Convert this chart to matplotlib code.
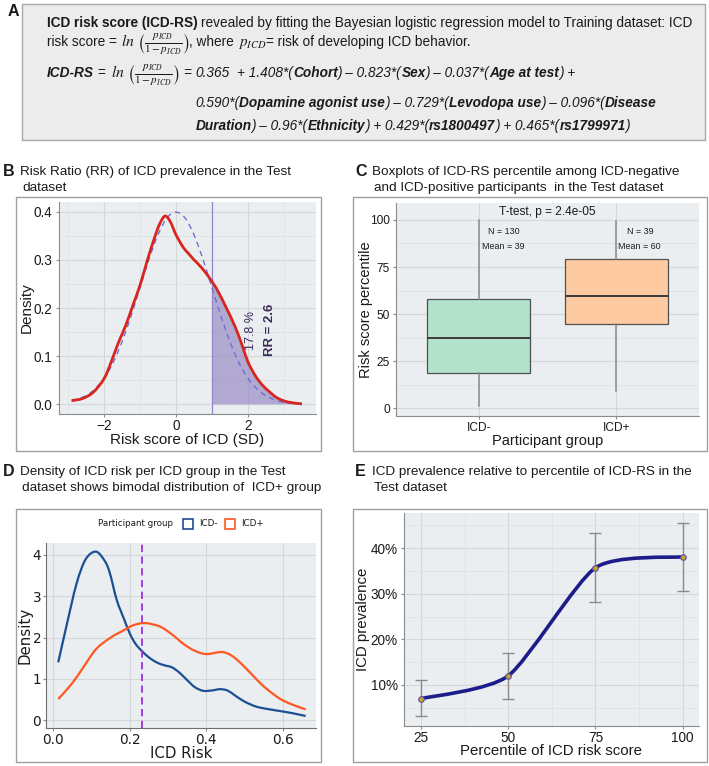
import numpy as np
import matplotlib
matplotlib.use("Agg")
import matplotlib.pyplot as plt
from matplotlib.path import Path
from matplotlib.patches import PathPatch, Rectangle
from matplotlib.ticker import MultipleLocator, FuncFormatter

plt.rcParams["font.family"] = ["Liberation Sans", "DejaVu Sans"]
plt.rcParams["mathtext.fontset"] = "stix"

# ---- panel B: density of the risk score (SD units)
b_x = [-2.9, -2.6, -2.3, -2.0, -1.8, -1.6, -1.4, -1.2, -1.0, -0.8, -0.6, -0.45, -0.3,
       -0.15, 0.0, 0.2, 0.35, 0.5, 0.72, 1.0, 1.2, 1.4, 1.65, 1.85, 2.0, 2.2, 2.4, 2.6,
       2.8, 3.1, 3.5]
b_red = [0.008, 0.012, 0.025, 0.053, 0.088, 0.128, 0.163, 0.205, 0.247, 0.298, 0.345,
         0.375, 0.391, 0.378, 0.352, 0.326, 0.313, 0.300, 0.283, 0.255, 0.230, 0.200,
         0.160, 0.120, 0.088, 0.060, 0.040, 0.026, 0.014, 0.005, 0.001]
b_norm_x = [-2.9, -2.5, -2.25, -2.0, -1.75, -1.5, -1.25, -1.0, -0.75, -0.5, -0.25, 0.0,
            0.25, 0.5, 0.75, 1.0, 1.25, 1.5, 1.75, 2.0, 2.25, 2.5, 2.75, 3.0, 3.25, 3.5]
b_norm = [0.006, 0.018, 0.032, 0.054, 0.086, 0.130, 0.183, 0.242, 0.301, 0.352, 0.387,
          0.399, 0.387, 0.352, 0.301, 0.242, 0.183, 0.130, 0.086, 0.054, 0.032, 0.018,
          0.009, 0.004, 0.002, 0.001]
b_cut = 1.0
b_pct = "17.8 %"
b_rr = "RR = 2.6"

# ---- panel C: boxplot stats
c_groups = ["ICD-", "ICD+"]
c_q1 = [18.6, 44.7]
c_med = [37.2, 59.4]
c_q3 = [58.0, 79.3]
c_wlo = [1.2, 9.4]
c_whi = [100.0, 99.3]
c_n = [130, 39]
c_mean = [39, 60]
c_colors = ["#b2e2cb", "#fdcaa1"]

# ---- panel D: density of ICD risk per group
d_neg_x = [0.013, 0.035, 0.061, 0.085, 0.112, 0.135, 0.148, 0.166, 0.185, 0.2, 0.215,
           0.231, 0.25, 0.27, 0.29, 0.31, 0.33, 0.35, 0.37, 0.392, 0.415, 0.436, 0.455,
           0.475, 0.5, 0.53, 0.56, 0.6, 0.63, 0.66]
d_neg = [1.40, 2.30, 3.31, 3.90, 4.08, 3.85, 3.56, 2.91, 2.45, 2.10, 1.85, 1.68, 1.52,
         1.40, 1.33, 1.28, 1.15, 0.97, 0.80, 0.71, 0.72, 0.75, 0.72, 0.60, 0.45, 0.33,
         0.27, 0.21, 0.16, 0.10]
d_pos_x = [0.013, 0.05, 0.08, 0.112, 0.15, 0.183, 0.21, 0.24, 0.278, 0.31, 0.34, 0.37,
           0.40, 0.44, 0.465, 0.488, 0.52, 0.55, 0.58, 0.6, 0.63, 0.66]
d_pos = [0.51, 0.90, 1.30, 1.72, 2.00, 2.17, 2.30, 2.35, 2.27, 2.08, 1.85, 1.68, 1.60,
         1.65, 1.57, 1.40, 1.10, 0.82, 0.60, 0.48, 0.36, 0.26]
d_cut = 0.231

# ---- panel E: prevalence by percentile
e_pct = [25, 50, 75, 100]
e_prev = [7.0, 12.0, 35.7, 38.1]
e_lo = [3.1, 6.9, 28.2, 30.6]
e_hi = [11.0, 17.0, 43.3, 45.6]

W, H = 709, 766
fig = plt.figure(figsize=(W / 100, H / 100), dpi=100)
R = fig.canvas.get_renderer()
INK = "#1a1a1a"


def fy(y):
    return 1 - y / H


def rect(l, t, r, b):
    return [l / W, 1 - b / H, (r - l) / W, (b - t) / H]


def frame(l, t, r, b, fc="none", ec="#a0a0a0"):
    fig.add_artist(Rectangle((l / W, 1 - b / H), (r - l) / W, (b - t) / H,
                             transform=fig.transFigure, facecolor=fc, edgecolor=ec,
                             lw=1, zorder=0))


def spline(xs, ys, start=0, t=1 / 6):
    # Catmull-Rom through the read points, as cubic Bezier segments
    p = np.column_stack([xs, ys]).astype(float)
    q = np.vstack([p[:1], p, p[-1:]])
    verts, codes = [p[start]], [Path.MOVETO]
    for i in range(start, len(p) - 1):
        p0, p1, p2, p3 = q[i], q[i + 1], q[i + 2], q[i + 3]
        verts += [p1 + (p2 - p0) * t, p2 - (p3 - p1) * t, p2]
        codes += [Path.CURVE4] * 3
    return verts, codes


def curve(ax, xs, ys, t=1 / 6, **kw):
    v, c = spline(xs, ys, t=t)
    ax.add_patch(PathPatch(Path(v, c), fill=False, **kw))


def gg(ax, bg="#ebeef0"):
    ax.set_facecolor(bg)
    ax.grid(which="major", color="#d4d8db", lw=0.8)
    ax.grid(which="minor", color="#dde1e3", lw=0.5)
    ax.set_axisbelow(True)
    for s in ["top", "right"]:
        ax.spines[s].set_visible(False)
    for s in ["left", "bottom"]:
        ax.spines[s].set_color("#8c8c8c")
    ax.tick_params(which="major", length=2.5, pad=2, color="#8c8c8c", labelcolor=INK)
    ax.tick_params(which="minor", length=0)


def labels(ax, xl, yl, xy, yx, size, **kw):
    ax.set_xlabel(xl, fontsize=size, color=INK, va="center", **kw)
    ax.set_ylabel(yl, fontsize=size, color=INK, va="center", **kw)
    ax.xaxis.set_label_coords(0.5, xy)
    ax.yaxis.set_label_coords(yx, 0.5)


def title(letter, x, y, lines, dx=17):
    fig.text(x / W, fy(y), letter, fontsize=11.5, fontweight="bold", va="center", color=INK)
    for i, s in enumerate(lines):
        fig.text((x + dx + (2 if i else 0)) / W, fy(y + 16 * i), s, fontsize=9.7,
                 va="center", color=INK)


# ================= A =================
frame(22, 4, 705, 140, fc="#ececec", ec="#a8a8a8")
fig.text(8 / W, fy(11), "A", fontsize=11.5, fontweight="bold", va="center", color=INK)
FS = 9.8
SP = 0.278 * FS * 100 / 72
N_ = dict(fontsize=FS)
B_ = dict(fontsize=FS, fontweight="bold")
I_ = dict(fontsize=FS, fontstyle="italic")
BI = dict(fontsize=FS, fontweight="bold", fontstyle="italic")
M_ = dict(fontsize=11.3)
P_ = dict(fontsize=10.8)
LN = r"$ln\ \left(\frac{p_{ICD}}{1-p_{ICD}}\right)$"


def rich(x, y, parts):
    xs = []
    for s, kw, gap in parts:
        x += gap * SP
        xs.append(x)
        t = fig.text(x / W, fy(y), s, va="baseline", ha="left", color=INK, **kw)
        x += t.get_window_extent(R).width
    return xs


rich(47, 27, [("ICD risk score (ICD-RS)", B_, 0),
              ("revealed by fitting the Bayesian logistic regression model to Training dataset: ICD", N_, 1)])
rich(47, 46, [("risk score =", N_, 0), (LN, M_, 1), (", where", N_, 0),
              (r"$p_{ICD}$", P_, 1), ("= risk of developing ICD behavior.", N_, 0)])
xs3 = rich(47, 77, [("ICD-RS", BI, 0), ("=", N_, 1), (LN, M_, 1.5), ("=", I_, 1),
                    ("0.365", I_, 1), ("+ 1.408*(", I_, 2), ("Cohort", BI, 0),
                    (") \u2013 0.823*(", I_, 0), ("Sex", BI, 0), (") \u2013 0.037*(", I_, 0),
                    ("Age at test", BI, 0), (") +", I_, 0)])
x4 = xs3[4]
rich(x4, 107, [("0.590*(", I_, 0), ("Dopamine agonist use", BI, 0),
               (") \u2013 0.729*(", I_, 0), ("Levodopa use", BI, 0),
               (") \u2013 0.096*(", I_, 0), ("Disease", BI, 0)])
rich(x4, 130, [("Duration", BI, 0), (") \u2013 0.96*(", I_, 0), ("Ethnicity", BI, 0),
               (") + 0.429*(", I_, 0), ("rs1800497", BI, 0), (") + 0.465*(", I_, 0),
               ("rs1799971", BI, 0), (")", I_, 0)])

# ================= B =================
title("B", 3, 172, ["Risk Ratio (RR) of ICD prevalence in the Test", "dataset"])
frame(16, 197, 321, 451)
axB = fig.add_axes(rect(59, 202, 316, 414))
gg(axB)
axB.set_xlim(-3.25, 3.89)
axB.set_ylim(-0.02, 0.42)
axB.xaxis.set_major_locator(MultipleLocator(2))
axB.xaxis.set_minor_locator(MultipleLocator(1))
axB.yaxis.set_major_locator(MultipleLocator(0.1))
axB.yaxis.set_minor_locator(MultipleLocator(0.05))
axB.yaxis.set_major_formatter(FuncFormatter(lambda v, p: f"{v:.1f}"))
axB.tick_params(labelsize=9.8)
axB.tick_params(axis="x", pad=1)
k = b_x.index(b_cut)
v, c = spline(b_x, b_red, start=k)
v += [(b_x[-1], 0), (b_cut, 0), (b_cut, 0)]
c += [Path.LINETO, Path.LINETO, Path.CLOSEPOLY]
axB.add_patch(PathPatch(Path(v, c), facecolor="#9a8cc6", alpha=0.7, lw=0, zorder=2))
axB.axvline(b_cut, color="#9486cc", lw=0.9, zorder=2)
curve(axB, b_norm_x, b_norm, edgecolor="#6f6fd2", lw=1.0, ls=(0, (4, 3)), zorder=3)
curve(axB, b_x, b_red, edgecolor="#d8261f", lw=2.0, zorder=4)
axB.text(2.08, 0.153, b_pct, rotation=90, ha="center", va="center", fontsize=9,
         color="#3b2a5a")
axB.text(2.6, 0.154, b_rr, rotation=90, ha="center", va="center", fontsize=9.5,
         fontweight="bold", color="#3b2a5a")
labels(axB, "Risk score of ICD (SD)", "Density", (414 - 440) / 212, (27 - 59) / 257, 11)

# ================= C =================
title("C", 355, 172, ["Boxplots of ICD-RS percentile among ICD-negative",
                      "and ICD-positive participants  in the Test dataset"])
frame(353, 197, 707, 451)
axC = fig.add_axes(rect(396, 203, 699, 416))
gg(axC)
axC.set_xlim(0.4, 2.6)
axC.set_ylim(-4.1, 109)
axC.yaxis.set_major_locator(MultipleLocator(25))
axC.yaxis.set_minor_locator(MultipleLocator(12.5))
stats = [dict(q1=c_q1[i], med=c_med[i], q3=c_q3[i], whislo=c_wlo[i], whishi=c_whi[i],
              fliers=[], label=c_groups[i]) for i in range(len(c_groups))]
bp = axC.bxp(stats, positions=[1, 2], widths=0.75, patch_artist=True, showcaps=False,
             boxprops=dict(edgecolor="#505050", lw=0.9),
             medianprops=dict(color="#3a3a3a", lw=1.4),
             whiskerprops=dict(color="#8a8a8a", lw=1.1))
for patch, col in zip(bp["boxes"], c_colors):
    patch.set_facecolor(col)
axC.tick_params(labelsize=8.6)
axC.tick_params(axis="x", pad=1.5)
axC.text(1.5, 104, "T-test, p = 2.4e-05", ha="center", va="center", fontsize=8.6, color=INK)
for i, pos in enumerate([1.18, 2.17]):
    axC.text(pos, 94, f"N = {c_n[i]}", ha="center", va="center", fontsize=6.4, color=INK)
    axC.text(pos, 86, f"Mean = {c_mean[i]}", ha="center", va="center", fontsize=6.4,
             color=INK)
labels(axC, "Participant group", "Risk score percentile", (416 - 441) / 213,
       (366 - 396) / 303, 10.5)

# ================= D =================
title("D", 3, 472, ["Density of ICD risk per ICD group in the Test",
                    "dataset shows bimodal distribution of  ICD+ group"])
frame(16, 509, 321, 762)
axD = fig.add_axes(rect(46, 543, 316, 728))
gg(axD, bg="#ebeef0")
axD.grid(which="minor", visible=False)
axD.set_xlim(-0.019, 0.687)
axD.set_ylim(-0.19, 4.29)
axD.xaxis.set_major_locator(MultipleLocator(0.2))
axD.yaxis.set_major_locator(MultipleLocator(1))
axD.xaxis.set_major_formatter(FuncFormatter(lambda v, p: f"{v:.1f}"))
for s in ["left", "bottom"]:
    axD.spines[s].set_color("#6e6e6e")
axD.tick_params(labelsize=9.8, pad=1)
for lab in axD.get_xticklabels() + axD.get_yticklabels():
    lab.set_family("DejaVu Sans")
curve(axD, d_neg_x, d_neg, edgecolor="#1b4f93", lw=1.6, zorder=3)
curve(axD, d_pos_x, d_pos, edgecolor="#ff5722", lw=1.6, zorder=3)
axD.axvline(d_cut, color="#9b30e0", lw=1.3, ls=(0, (4, 2.5)), zorder=4)
labels(axD, "ICD Risk", "Density", (728 - 753) / 185, (25 - 46) / 270, 10.8,
       family="DejaVu Sans")
fig.text(98 / W, fy(524), "Participant group", fontsize=6.3, family="DejaVu Sans",
         va="center", color=INK)
for lx, col, lab in [(183, "#1b4f93", c_groups[0]), (225, "#ff5722", c_groups[1])]:
    fig.add_artist(Rectangle((lx / W, fy(529)), 10 / W, 10 / H, transform=fig.transFigure,
                             facecolor="none", edgecolor=col, lw=1.2))
    fig.text((lx + 16) / W, fy(524), lab, fontsize=6.3, family="DejaVu Sans",
             va="center", color=INK)

# ================= E =================
title("E", 355, 472, ["ICD prevalence relative to percentile of ICD-RS in the",
                      "Test dataset"])
frame(353, 509, 707, 762)
axE = fig.add_axes(rect(404, 513, 699, 726))
gg(axE)
axE.set_xlim(20.1, 104.7)
axE.set_ylim(1.0, 47.7)
axE.set_xticks(e_pct)
axE.xaxis.set_minor_locator(MultipleLocator(12.5))
axE.yaxis.set_major_locator(MultipleLocator(10))
axE.yaxis.set_minor_locator(MultipleLocator(5))
axE.yaxis.set_major_formatter(FuncFormatter(lambda v, p: f"{v:.0f}%"))
axE.tick_params(labelsize=9.8)
axE.tick_params(axis="x", pad=1)
prev = np.array(e_prev)
axE.errorbar(e_pct, e_prev, yerr=[prev - np.array(e_lo), np.array(e_hi) - prev],
             fmt="none", ecolor="#8a8a8a", elinewidth=1, capsize=4.5, capthick=1, zorder=2)
curve(axE, e_pct, e_prev, t=1 / 9, edgecolor="#1c1c8a", lw=2.6, zorder=3)
axE.scatter(e_pct, e_prev, s=16, facecolor="#c9a227", edgecolor="#5a4fb0", lw=0.8, zorder=4)
labels(axE, "Percentile of ICD risk score", "ICD prevalence", (726 - 751) / 213,
       (363 - 404) / 295, 10.8)

fig.savefig("out.png", dpi=100)
